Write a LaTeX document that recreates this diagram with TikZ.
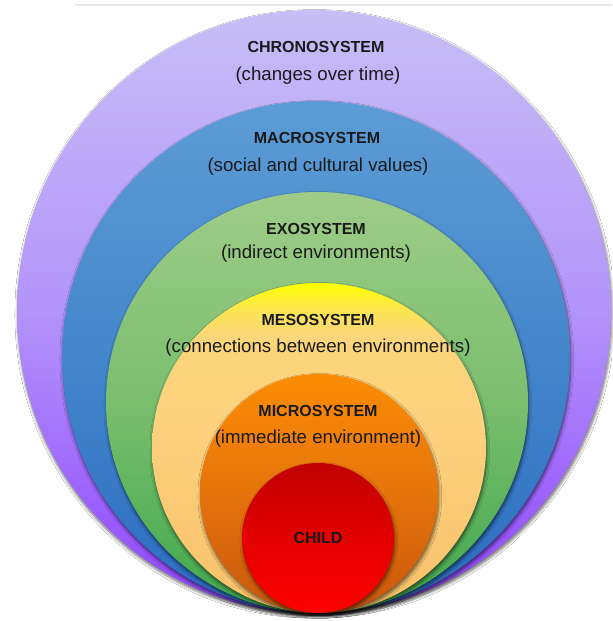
\documentclass[tikz,border=0pt]{standalone}
\usepackage{fontspec}
\setmainfont{Liberation Sans}
\usetikzlibrary{shapes.geometric,shadows.blur}
\definecolor{txt}{HTML}{1A1A1A}
\definecolor{chA}{HTML}{8F44FE}\definecolor{chB}{HTML}{B394FA}\definecolor{chC}{HTML}{C7BEF6}
\definecolor{maA}{HTML}{2A6CC0}\definecolor{maB}{HTML}{4486CB}\definecolor{maC}{HTML}{5C9CD6}
\definecolor{exA}{HTML}{3FA84C}\definecolor{exB}{HTML}{7ABE6E}\definecolor{exC}{HTML}{9FCC88}
\definecolor{meA}{HTML}{F8C06A}\definecolor{meB}{HTML}{FDD27F}\definecolor{meC}{HTML}{FCD67A}\definecolor{meD}{HTML}{FCE550}\definecolor{meE}{HTML}{FFFF00}
\definecolor{miA}{HTML}{C8560C}\definecolor{miB}{HTML}{E5740C}\definecolor{miC}{HTML}{FB8D04}
\definecolor{ciA}{HTML}{FF0000}\definecolor{ciB}{HTML}{E30000}\definecolor{ciC}{HTML}{C00000}
\pgfdeclareverticalshading{chronoshade}{100bp}{color(0bp)=(chA); color(25bp)=(chA); color(50bp)=(chB); color(75bp)=(chC); color(100bp)=(chC)}
\pgfdeclareverticalshading{macroshade}{100bp}{color(0bp)=(maA); color(25bp)=(maA); color(50bp)=(maB); color(75bp)=(maC); color(100bp)=(maC)}
\pgfdeclareverticalshading{exoshade}{100bp}{color(0bp)=(exA); color(25bp)=(exA); color(50bp)=(exB); color(75bp)=(exC); color(100bp)=(exC)}
\pgfdeclareverticalshading{mesoshade}{100bp}{color(0bp)=(meA); color(25bp)=(meA); color(55bp)=(meB); color(67bp)=(meC); color(71bp)=(meD); color(75bp)=(meE); color(100bp)=(meE)}
\pgfdeclareverticalshading{microshade}{100bp}{color(0bp)=(miA); color(25bp)=(miA); color(50bp)=(miB); color(75bp)=(miC); color(100bp)=(miC)}
\pgfdeclareverticalshading{childshade}{100bp}{color(0bp)=(ciA); color(25bp)=(ciA); color(50bp)=(ciB); color(75bp)=(ciC); color(100bp)=(ciC)}
\tikzset{
  ring/.style={ellipse, inner sep=0pt, outer sep=0pt,
    blur shadow={shadow xshift=0.6pt, shadow yshift=-1.8pt, shadow opacity=55, shadow blur steps=6, shadow blur extra rounding=1.5pt}},
  ttl/.style={font=\bfseries\fontsize{12}{14}\selectfont, text=txt, inner sep=0pt},
  sub/.style={font=\fontsize{14}{16}\selectfont, text=txt, inner sep=0pt},
}
\begin{document}
\begin{tikzpicture}[x=0.75pt,y=-0.75pt]
\useasboundingbox (0,0) rectangle (612,621);
\fill[white] (0,0) rectangle (612,621);
\draw[line width=1.5pt, color=black!9] (75,5) -- (612,5);
\node[ring, shading=chronoshade, minimum width=445.5pt, minimum height=452.25pt] (chrono) at (314,311.5) {};
\node[ring, shading=macroshade, minimum width=381pt, minimum height=384pt] (macro) at (316,357) {};
\node[ring, shading=exoshade, minimum width=316.5pt, minimum height=315.75pt] (exo) at (317,402.5) {};
\node[ring, shading=mesoshade, minimum width=250.5pt, minimum height=247.5pt] (meso) at (319,448) {};
\node[ring, shading=microshade, minimum width=178.5pt, minimum height=179.25pt] (micro) at (319,493.5) {};
\node[ring, shading=childshade, minimum width=114pt, minimum height=112.5pt] (child) at (318,538) {};
\node[ttl] (chronot) at (316,47) {CHRONOSYSTEM};
\node[sub] (chronos) at (318,76) {(changes over time)};
\node[ttl] (macrot) at (317,138) {MACROSYSTEM};
\node[sub] (macros) at (318,167) {(social and cultural values)};
\node[ttl] (exot) at (316,229) {EXOSYSTEM};
\node[sub] (exos) at (316,254) {(indirect environments)};
\node[ttl] (mesot) at (318,320) {MESOSYSTEM};
\node[sub] (mesos) at (318,348) {(connections between environments)};
\node[ttl] (microt) at (318,411) {MICROSYSTEM};
\node[sub] (micros) at (318,439) {(immediate environment)};
\node[ttl] (childt) at (318,538) {CHILD};
\end{tikzpicture}
\end{document}
